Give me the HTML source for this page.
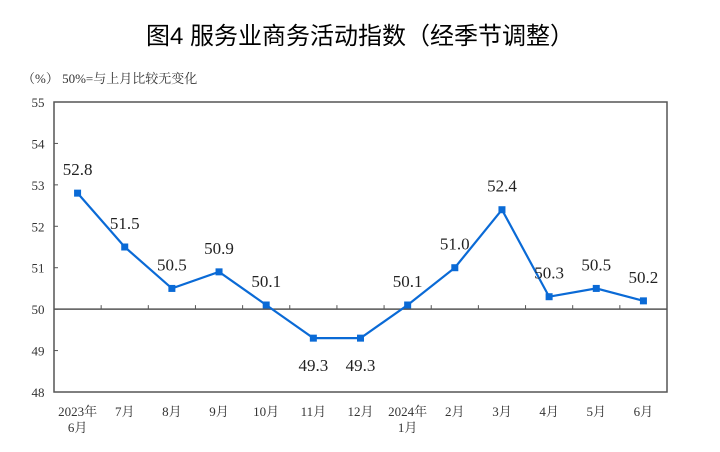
<!DOCTYPE html>
<html><head><meta charset="utf-8"><style>
body{margin:0;background:#fff;width:720px;height:447px;overflow:hidden}
text{font-family:"Liberation Serif","Noto Serif CJK SC",serif}
</style></head><body>
<svg width="720" height="447">
<text x="360" y="44" text-anchor="middle" font-size="24" font-family="'Noto Sans CJK SC',sans-serif" style="font-family:'Liberation Sans','Noto Sans CJK SC',sans-serif">图4  服务业商务活动指数（经季节调整）</text>
<text x="22" y="83" font-size="13" fill="#333">（%）  50%=与上月比较无变化</text>
<g id="axes"></g><g id="series"></g>
</svg>
<script>
const categories=[["2023年","6月"],["7月"],["8月"],["9月"],["10月"],["11月"],["12月"],["2024年","1月"],["2月"],["3月"],["4月"],["5月"],["6月"]];
const values=[52.8,51.5,50.5,50.9,50.1,49.3,49.3,50.1,51.0,52.4,50.3,50.5,50.2];
const valueLabels=["52.8","51.5","50.5","50.9","50.1","49.3","49.3","50.1","51.0","52.4","50.3","50.5","50.2"];
const yTicks=[48,49,50,51,52,53,54,55];
const L=54,R=667,T=102,B=392,yMin=48,yMax=55;
const NS="http://www.w3.org/2000/svg";
const bw=(R-L)/categories.length;
const xs=i=>L+bw*(i+0.5);
const ys=v=>B-(v-yMin)/(yMax-yMin)*(B-T);
function mk(tag,attrs,parent,txt){const e=document.createElementNS(NS,tag);for(const k in attrs)e.setAttribute(k,attrs[k]);if(txt!=null)e.textContent=txt;parent.appendChild(e);return e;}
const ax=document.getElementById('axes'),se=document.getElementById('series');
let f=mk('rect',{x:L,y:T,width:R-L,height:B-T,fill:'none',stroke:'#555','stroke-width':1.5},ax);


yTicks.forEach(v=>{
 let t=mk('line',{x1:L,x2:L+4,y1:ys(v),y2:ys(v),stroke:'#555'},ax);
 
 
 let l=mk('text',{x:L-16,y:ys(v)+5,'font-size':13,'text-anchor':'middle',fill:'#333'},ax,String(v));
 
 
});
let base=mk('line',{x1:L,x2:R,y1:ys(50),y2:ys(50),stroke:'#555','stroke-width':1.5},ax);


categories.forEach((c,i)=>{
 if(i>0){let t=mk('line',{x1:L+bw*i,x2:L+bw*i,y1:ys(50),y2:ys(50)-4,stroke:'#555'},ax);
 
 }
 c.forEach((s,j)=>{let l=mk('text',{x:xs(i),y:416+j*16,'font-size':13,'text-anchor':'middle',fill:'#333'},ax,s);
 
 });
});
let line=mk('polyline',{points:values.map((v,i)=>xs(i)+','+ys(v)).join(' '),fill:'none',stroke:'#0a6ad6','stroke-width':2.2},se);


values.forEach((v,i)=>{
 let m=mk('rect',{x:xs(i)-3.5,y:ys(v)-3.5,width:7,height:7,fill:'#0a6ad6'},se);
 
 
 const below=(i==5||i==6);
 let l=mk('text',{x:xs(i),y:below?ys(v)+33:ys(v)-18,'font-size':17,'text-anchor':'middle',fill:'#222'},se,valueLabels[i]);
 
 
});
</script>
</body></html>
